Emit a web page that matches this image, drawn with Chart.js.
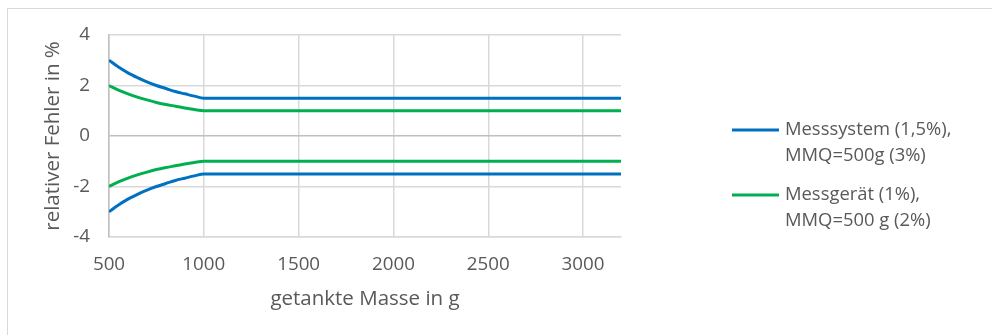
<!DOCTYPE html>
<html lang="de">
<head>
  <meta charset="UTF-8">
  <title>relativer Fehler</title>
  <script src="https://cdn.jsdelivr.net/npm/chart.js"></script>
  <style>
    body {
      margin: 0;
      background-color: #ffffff;
      overflow: hidden;
    }
    #wrap {
      position: relative;
      width: 992px;
      height: 335px;
      overflow: hidden;
    }
    #frame {
      position: absolute;
      left: 7px;
      top: 8px;
      width: 1000px;
      height: 400px;
      border: 1.5px solid #d9d9d9;
    }
    canvas {
      position: absolute;
      left: 0;
      top: 0;
    }
  </style>
</head>
<body>
  <div id="wrap">
    <div id="frame"></div>
    <canvas id="fehlerChart" width="992" height="335"></canvas>
  </div>

  <script>
    // getankte Masse in g
    const masses = [500, 550, 600, 650, 700, 750, 800, 850, 900, 950, 1000, 3200];
    // Messsystem (1,5%), MMQ=500g (3%)
    const systemOben = [3.0, 2.73, 2.5, 2.31, 2.14, 2.0, 1.88, 1.76, 1.67, 1.58, 1.5, 1.5];
    const systemUnten = [-3.0, -2.73, -2.5, -2.31, -2.14, -2.0, -1.88, -1.76, -1.67, -1.58, -1.5, -1.5];
    // Messgerät (1%), MMQ=500 g (2%)
    const geraetOben = [2.0, 1.82, 1.67, 1.54, 1.43, 1.33, 1.25, 1.18, 1.11, 1.05, 1.0, 1.0];
    const geraetUnten = [-2.0, -1.82, -1.67, -1.54, -1.43, -1.33, -1.25, -1.18, -1.11, -1.05, -1.0, -1.0];

    const xTicks = [500, 1000, 1500, 2000, 2500, 3000];
    const yTicks = [-4, -2, 0, 2, 4];

    const legendLabels = [
      ['Messsystem (1,5%),', 'MMQ=500g (3%)'],
      ['Messgerät (1%),', 'MMQ=500 g (2%)']
    ];

    const blau = '#0070c0';
    const gruen = '#00b050';
    const textFarbe = '#595959';

    Chart.defaults.font.family = '"Open Sans", sans-serif';
    Chart.defaults.color = textFarbe;

    function punkte(werte) {
      return masses.map((m, i) => ({ x: m, y: werte[i] }));
    }

    function linie(werte, farbe) {
      return {
        data: punkte(werte),
        borderColor: farbe,
        borderWidth: 3,
        pointRadius: 0,
        fill: false,
        cubicInterpolationMode: 'monotone'
      };
    }

    // eigene Legende rechts, zweizeilig
    const legendePlugin = {
      id: 'legende',
      afterDraw(chart) {
        const ctx = chart.ctx;
        const eintraege = [
          { farbe: blau, y: 130, text: legendLabels[0] },
          { farbe: gruen, y: 195, text: legendLabels[1] }
        ];
        ctx.save();
        ctx.font = '18.4px "Open Sans", sans-serif';
        ctx.fillStyle = textFarbe;
        ctx.textBaseline = 'middle';
        ctx.textAlign = 'left';
        eintraege.forEach(e => {
          ctx.strokeStyle = e.farbe;
          ctx.lineWidth = 3;
          ctx.beginPath();
          ctx.moveTo(732, e.y);
          ctx.lineTo(779, e.y);
          ctx.stroke();
          e.text.forEach((zeile, i) => {
            ctx.fillText(zeile, 785, e.y + i * 25.5);
          });
        });
        ctx.restore();
      }
    };

    const ctx = document.getElementById('fehlerChart').getContext('2d');

    new Chart(ctx, {
      type: 'line',
      data: {
        datasets: [
          linie(systemOben, blau),
          linie(geraetOben, gruen),
          linie(geraetUnten, gruen),
          linie(systemUnten, blau)
        ]
      },
      options: {
        responsive: false,
        animation: false,
        layout: {
          padding: { left: 0, right: 371, top: 35, bottom: 0 }
        },
        plugins: {
          legend: { display: false },
          tooltip: { enabled: false }
        },
        scales: {
          x: {
            type: 'linear',
            min: 500,
            max: 3200,
            afterBuildTicks: s => { s.ticks = xTicks.map(v => ({ value: v })); },
            afterFit: s => { s.height = 98; },
            ticks: {
              padding: 16,
              font: { size: 18.8 },
              color: textFarbe,
              callback: v => String(v)
            },
            grid: {
              color: '#d9d9d9',
              lineWidth: 1.5,
              drawTicks: false
            },
            border: { color: '#d9d9d9', width: 1.5 },
            title: {
              display: true,
              text: 'getankte Masse in g',
              font: { size: 20.5 },
              color: textFarbe,
              padding: { top: 0, bottom: 24 }
            }
          },
          y: {
            min: -4,
            max: 4,
            afterBuildTicks: s => { s.ticks = yTicks.map(v => ({ value: v })); },
            afterFit: s => { s.width = 109; },
            ticks: {
              padding: 19,
              font: { size: 18.8 },
              color: textFarbe
            },
            grid: {
              color: c => (c.tick && c.tick.value === 0) ? '#bfbfbf' : '#d9d9d9',
              lineWidth: 1.5,
              drawTicks: false
            },
            border: { color: '#bfbfbf', width: 1.5 },
            title: {
              display: true,
              text: 'relativer Fehler in %',
              font: { size: 20.5 },
              color: textFarbe,
              padding: { top: 41, bottom: 0 }
            }
          }
        }
      },
      plugins: [legendePlugin]
    });
  </script>
</body>
</html>
